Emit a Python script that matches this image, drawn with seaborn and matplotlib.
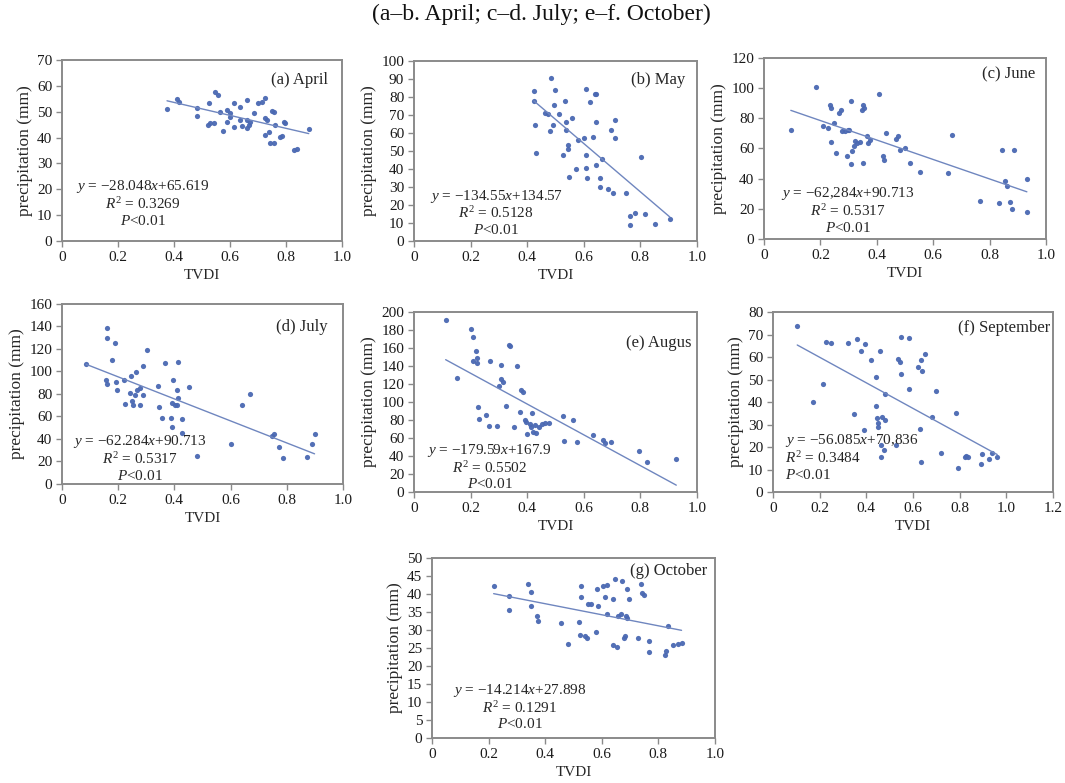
"""
TVDI vs precipitation scatter panels, April to October
"""

import matplotlib
matplotlib.use("Agg")
import matplotlib.pyplot as plt
import seaborn as sns

# ---- data ----
april_x = [0.375, 0.41, 0.417, 0.482, 0.482, 0.524, 0.52, 0.542, 0.548, 0.556, 0.565, 0.575,
           0.589, 0.601, 0.613, 0.613, 0.637, 0.643, 0.661, 0.661, 0.667, 0.673, 0.685, 0.699,
           0.714, 0.726, 0.726, 0.732, 0.726, 0.738, 0.744, 0.756, 0.75, 0.756, 0.762, 0.78,
           0.786, 0.792, 0.798, 0.827, 0.839, 0.881, 0.60, 0.637, 0.589, 0.53, 0.66]
april_y = [50.9, 54.8, 53.6, 51.3, 48.3, 53.5, 44.9, 45.8, 57.8, 56.5, 50.0, 42.7,
           50.7, 49.4, 53.2, 44.0, 52.0, 44.5, 54.5, 46.8, 44.9, 46.2, 49.4, 53.2,
           53.9, 55.2, 47.4, 46.8, 41.0, 42.3, 37.8, 37.8, 50.4, 50.0, 44.9, 40.4,
           40.6, 46.2, 45.8, 35.2, 35.4, 43.2, 48.0, 46.8, 46.2, 45.5, 43.6]

may_x = [0.424, 0.424, 0.429, 0.433, 0.462, 0.474, 0.48, 0.486, 0.492, 0.495, 0.498, 0.513,
         0.525, 0.533, 0.536, 0.539, 0.545, 0.545, 0.548, 0.56, 0.572, 0.58, 0.60, 0.609,
         0.609, 0.609, 0.612, 0.621, 0.633, 0.639, 0.645, 0.642, 0.642, 0.659, 0.659, 0.666,
         0.686, 0.698, 0.704, 0.709, 0.709, 0.748, 0.762, 0.765, 0.78, 0.804, 0.815, 0.851, 0.904]
may_y = [83.2, 78.0, 64.2, 49.1, 71.0, 70.3, 61.1, 90.6, 64.2, 75.3, 84.0, 70.3,
         47.6, 77.7, 66.1, 61.4, 53.1, 51.3, 35.6, 68.5, 40.2, 56.3, 57.4, 84.5,
         47.6, 40.8, 35.2, 77.1, 57.7, 81.7, 81.4, 66.1, 42.1, 35.2, 30.1, 45.8,
         28.8, 61.4, 26.8, 67.0, 57.4, 26.8, 13.8, 8.9, 15.3, 46.7, 14.9, 9.4, 12.2]

june_x = [0.095, 0.184, 0.21, 0.228, 0.233, 0.237, 0.239, 0.247, 0.255, 0.267, 0.273, 0.275,
          0.287, 0.293, 0.296, 0.301, 0.308, 0.31, 0.313, 0.32, 0.322, 0.328, 0.34, 0.346,
          0.35, 0.352, 0.355, 0.364, 0.367, 0.376, 0.408, 0.423, 0.427, 0.432, 0.468, 0.476,
          0.482, 0.50, 0.518, 0.553, 0.654, 0.666, 0.767, 0.832, 0.844, 0.855, 0.861, 0.873,
          0.879, 0.885, 0.932, 0.932]
june_y = [72.0, 100.8, 75.1, 73.6, 89.0, 86.9, 64.1, 76.9, 57.0, 83.5, 85.3, 71.4,
          71.4, 54.8, 72.0, 72.5, 49.9, 91.3, 58.1, 61.9, 64.8, 63.6, 64.1, 85.3,
          50.4, 89.0, 86.9, 68.1, 63.6, 65.9, 96.4, 54.8, 52.2, 70.3, 66.3, 68.1,
          59.2, 60.3, 50.4, 44.2, 43.8, 69.2, 25.0, 23.9, 59.2, 38.2, 34.9, 24.3,
          19.9, 59.2, 39.8, 17.7]

july_x = [0.086, 0.162, 0.162, 0.157, 0.16, 0.178, 0.189, 0.193, 0.195, 0.219, 0.225, 0.245,
          0.243, 0.249, 0.254, 0.26, 0.264, 0.266, 0.276, 0.278, 0.288, 0.29, 0.302, 0.343,
          0.347, 0.355, 0.367, 0.387, 0.391, 0.391, 0.396, 0.402, 0.408, 0.408, 0.412, 0.414,
          0.426, 0.426, 0.453, 0.482, 0.60, 0.639, 0.669, 0.749, 0.754, 0.773, 0.787, 0.872,
          0.891, 0.899]
july_y = [106.7, 138.4, 129.5, 92.4, 88.9, 110.2, 125.0, 91.0, 83.6, 92.4, 71.1, 96.0,
          80.6, 74.1, 70.2, 79.1, 99.9, 83.6, 85.0, 70.2, 79.1, 104.9, 119.1, 87.1,
          68.7, 58.4, 107.9, 58.4, 51.0, 72.3, 92.4, 70.2, 83.6, 70.2, 108.7, 76.1,
          57.5, 45.6, 86.5, 24.9, 35.6, 70.2, 80.0, 42.7, 44.4, 32.6, 22.8, 23.7,
          35.6, 44.4]

august_x = [0.112, 0.152, 0.201, 0.209, 0.207, 0.219, 0.221, 0.223, 0.227, 0.23, 0.256, 0.266,
            0.27, 0.292, 0.301, 0.306, 0.309, 0.313, 0.327, 0.336, 0.341, 0.353, 0.365, 0.374,
            0.377, 0.386, 0.392, 0.396, 0.40, 0.41, 0.412, 0.416, 0.421, 0.427, 0.433, 0.443,
            0.451, 0.463, 0.478, 0.525, 0.53, 0.561, 0.575, 0.634, 0.669, 0.675, 0.695, 0.797,
            0.825, 0.927]
august_y = [190.7, 126.5, 181.1, 172.2, 145.1, 156.2, 148.8, 143.2, 95.0, 80.9, 85.7, 73.5,
            145.1, 73.5, 118.0, 141.4, 125.4, 122.8, 95.7, 163.6, 161.8, 72.0, 140.3, 89.4,
            113.5, 111.7, 80.1, 78.3, 64.6, 75.7, 72.7, 87.6, 67.2, 74.6, 65.3, 72.7,
            75.7, 77.2, 77.2, 84.6, 57.1, 80.1, 56.0, 63.5, 57.9, 54.2, 56.0, 46.0,
            33.8, 36.4]

september_x = [0.104, 0.171, 0.214, 0.229, 0.247, 0.321, 0.347, 0.361, 0.379, 0.39, 0.396, 0.421,
               0.443, 0.443, 0.447, 0.45, 0.45, 0.457, 0.461, 0.464, 0.467, 0.476, 0.479, 0.481,
               0.529, 0.536, 0.543, 0.55, 0.55, 0.581, 0.581, 0.621, 0.629, 0.633, 0.636, 0.639,
               0.65, 0.681, 0.70, 0.721, 0.786, 0.793, 0.821, 0.829, 0.836, 0.893, 0.896, 0.924,
               0.939, 0.961]
september_y = [73.9, 40.2, 47.9, 66.9, 66.2, 66.2, 34.7, 68.0, 62.5, 27.6, 65.9, 58.5,
               51.1, 38.3, 32.8, 30.6, 29.1, 62.9, 20.9, 15.4, 33.5, 18.7, 43.6, 31.8,
               20.9, 59.1, 58.0, 52.5, 68.9, 68.4, 45.7, 55.5, 27.9, 13.5, 58.8, 54.0,
               61.4, 33.5, 44.7, 17.5, 35.3, 10.5, 15.7, 16.0, 15.7, 12.3, 16.9, 14.5,
               17.5, 15.7]

october_x = [0.218, 0.271, 0.274, 0.341, 0.349, 0.349, 0.371, 0.373, 0.455, 0.479, 0.518, 0.524,
             0.526, 0.526, 0.541, 0.547, 0.553, 0.561, 0.58, 0.582, 0.585, 0.606, 0.618, 0.612,
             0.62, 0.639, 0.641, 0.647, 0.653, 0.659, 0.667, 0.671, 0.679, 0.682, 0.686, 0.688,
             0.691, 0.698, 0.729, 0.738, 0.741, 0.749, 0.768, 0.768, 0.824, 0.827, 0.835, 0.853,
             0.871, 0.882]
october_y = [42.1, 39.5, 35.5, 42.9, 40.5, 36.6, 34.0, 32.4, 31.8, 26.2, 32.1, 28.7,
             42.1, 39.2, 28.2, 27.8, 37.3, 37.3, 29.4, 41.4, 36.6, 42.3, 42.6, 39.2,
             34.3, 38.6, 25.9, 44.2, 25.3, 33.8, 34.3, 43.5, 27.8, 28.4, 33.8, 33.3,
             41.4, 38.6, 27.8, 42.9, 40.3, 39.8, 26.9, 23.8, 23.1, 24.1, 31.2, 25.9,
             26.2, 26.4]

panel_names = ["(a) April", "(b) May", "(c) June", "(d) July", "(e) Augus",
               "(f) September", "(g) October"]
equations = ["−28.048", "+65.619", "−134.55", "+134.57", "−62,284", "+90.713",
             "−62.284", "+90.713", "−179.59", "+167.9", "−56.085", "+70,836",
             "−14.214", "+27.898"]
r_squared = ["0.3269", "0.5128", "0.5317", "0.5317", "0.5502", "0.3484", "0.1291"]
y_max = [70, 100, 120, 160, 200, 80, 50]
y_step = [10, 10, 20, 20, 20, 10, 5]
x_max = [1.0, 1.0, 1.0, 1.0, 1.0, 1.2, 1.0]

# ---- style ----
sns.set_style("ticks")
plt.rcParams['font.family'] = ['Liberation Serif', 'DejaVu Serif']
plt.rcParams['mathtext.fontset'] = 'custom'
plt.rcParams['mathtext.rm'] = 'Liberation Serif'
plt.rcParams['mathtext.it'] = 'Liberation Serif:italic'
plt.rcParams['axes.edgecolor'] = '#8a8a8a'
plt.rcParams['axes.linewidth'] = 1.4
plt.rcParams['xtick.color'] = '#8a8a8a'
plt.rcParams['ytick.color'] = '#8a8a8a'
plt.rcParams['xtick.labelcolor'] = '#1a1a1a'
plt.rcParams['ytick.labelcolor'] = '#1a1a1a'

DOT = '#4a68b2'
LINE = '#6f86bf'
TICK_FS = 11
EQ_FS = 11

# axes boxes in figure fractions [left, bottom, width, height]
boxes = [
    [0.0582, 0.6922, 0.2630, 0.2312],
    [0.3887, 0.6922, 0.2657, 0.2299],
    [0.7174, 0.6948, 0.2648, 0.2312],
    [0.0582, 0.3819, 0.2638, 0.2299],
    [0.3887, 0.3716, 0.2657, 0.2299],
    [0.7258, 0.3716, 0.2629, 0.2299],
    [0.4056, 0.0575, 0.2657, 0.2299],
]
# equation block: x centre (or left), y of first line, alignment
eq_pos = [(0.29, 0.30, 'center'), (0.29, 0.25, 'center'), (0.297, 0.25, 'center'),
          (0.278, 0.235, 'center'), (0.268, 0.232, 'center'), (0.042, 0.285, 'left'),
          (0.31, 0.265, 'center')]
name_pos = [(0.95, 0.89), (0.96, 0.895), (0.96, 0.91), (0.946, 0.874), (0.98, 0.83),
            (0.99, 0.91), (0.973, 0.926)]

xs = [april_x, may_x, june_x, july_x, august_x, september_x, october_x]
ys = [april_y, may_y, june_y, july_y, august_y, september_y, october_y]

fig = plt.figure(figsize=(10.65, 7.83), dpi=100)
fig.text(0.508, 0.981, "(a–b. April; c–d. July; e–f. October)", ha='center', va='center',
         fontsize=17, color='#111111')

for i in range(7):
    ax = fig.add_axes(boxes[i])
    sns.regplot(x=xs[i], y=ys[i], ax=ax, ci=None,
                scatter_kws={'s': 14, 'color': DOT, 'linewidths': 0, 'alpha': 0.95},
                line_kws={'color': LINE, 'lw': 1.0})
    ax.set_xlim(0, x_max[i])
    ax.set_ylim(0, y_max[i])
    if x_max[i] > 1.0:
        ax.set_xticks([0, 0.2, 0.4, 0.6, 0.8, 1.0, 1.2])
        ax.set_xticklabels(["0", "0.2", "0.4", "0.6", "0.8", "1.0", "1.2"])
    else:
        ax.set_xticks([0, 0.2, 0.4, 0.6, 0.8, 1.0])
        ax.set_xticklabels(["0", "0.2", "0.4", "0.6", "0.8", "1.0"])
    ax.set_yticks(range(0, y_max[i] + 1, y_step[i]))
    ax.tick_params(direction='out', length=4, width=1.0, labelsize=TICK_FS, pad=3)
    for s in ['top', 'right']:
        ax.spines[s].set_visible(True)
    ax.set_xlabel("TVDI", fontsize=11, labelpad=4)
    ax.set_ylabel("precipitation (mm)", fontsize=12.5, labelpad=3)

    ex, ey, ha = eq_pos[i]
    slope, icpt = equations[2 * i], equations[2 * i + 1]
    ax.text(ex, ey, f"$y$ = {slope}$x${icpt}", transform=ax.transAxes,
            ha=ha, va='center', fontsize=EQ_FS)
    ax.text(ex, ey - 0.097, f"$R^2$ = {r_squared[i]}", transform=ax.transAxes,
            ha=ha, va='center', fontsize=EQ_FS)
    ax.text(ex, ey - 0.188, "$P$<0.01", transform=ax.transAxes,
            ha=ha, va='center', fontsize=EQ_FS)
    nx, ny = name_pos[i]
    ax.text(nx, ny, panel_names[i], transform=ax.transAxes, ha='right', va='center',
            fontsize=12)

fig.savefig("out.png", dpi=100)
